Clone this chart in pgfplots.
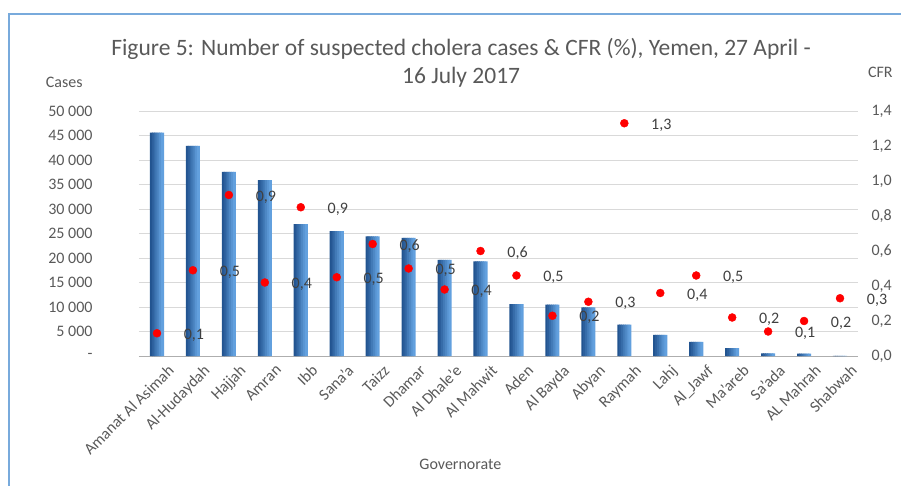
\documentclass[border=0pt]{standalone}
\usepackage{fontspec}
\setmainfont{Carlito}
\usepackage{pgfplots}
\usepackage{pgfplotstable}
\pgfplotsset{compat=1.18}

\definecolor{txt}{RGB}{89,89,89}
\definecolor{lbl}{RGB}{64,64,64}
\definecolor{gridc}{RGB}{217,217,217}
\definecolor{barL}{RGB}{34,84,144}
\definecolor{barR}{RGB}{98,160,222}
\definecolor{framec}{RGB}{120,170,220}
% slice colours for the bar gradient
\colorlet{bar0}{barL}
\colorlet{bar1}{barL!85!barR}
\colorlet{bar2}{barL!68!barR}
\colorlet{bar3}{barL!50!barR}
\colorlet{bar4}{barL!33!barR}
\colorlet{bar5}{barL!16!barR}
\colorlet{bar6}{barR}

\pgfplotstableread{
x cases
0 45600
1 42900
2 37600
3 35900
4 26900
5 25500
6 24400
7 24100
8 19600
9 19300
10 10600
11 10500
12 9900
13 6400
14 4300
15 2900
16 1600
17 550
18 500
19 50
}\cases

\pgfplotstableread{
x cfr
0 0.13
1 0.49
2 0.92
3 0.42
4 0.85
5 0.45
6 0.64
7 0.50
8 0.38
9 0.60
10 0.46
11 0.23
12 0.31
13 1.33
14 0.36
15 0.46
16 0.22
17 0.14
18 0.20
19 0.33
}\cfr

\begin{document}
\begin{tikzpicture}[font=\fontsize{16bp}{19bp}\selectfont]
\path[use as bounding box] (-139bp,-130bp) rectangle (762bp,356bp);
\draw[framec, line width=1.2bp] (-130bp,-131bp) -- (-130bp,342bp) -- (763bp,342bp);

% cases (left axis)
\begin{axis}[
    at={(0,0)}, anchor=south west, scale only axis,
    width=719bp, height=245bp,
    xmin=-0.5, xmax=19.5, ymin=0, ymax=50000,
    clip=false,
    scaled y ticks=false,
    separate axis lines,
    axis x line*=bottom, axis y line*=left,
    x axis line style={color=gridc!80!black, line width=1bp},
    y axis line style={draw=none},
    major tick length=0pt,
    xtick={0,...,19},
    xticklabels={Amanat Al Asimah, Al-Hudaydah, Hajjah, Amran, Ibb, Sana'a, Taizz, Dhamar, Al Dhale'e, Al Mahwit, Aden, Al Bayda, Abyan, Raymah, Lahj, Al\_Jawf, Ma'areb, Sa'ada, AL Mahrah, Shabwah},
    xticklabel style={rotate=45, anchor=north east, xshift=5bp, yshift=-9bp, color=txt},
    ytick={0,5000,...,50000},
    yticklabels={{-\hspace{13bp}}, 5 000, 10 000, 15 000, 20 000, 25 000, 30 000, 35 000, 40 000, 45 000, 50 000},
    yticklabel style={color=txt, anchor=east, xshift=-43bp},
    ymajorgrids, grid style={color=gridc, line width=0.9bp},
]
% bars drawn as seven overlapping slices to get the left-to-right gradient
\pgfplotsinvokeforeach{0,...,6}{
  \addplot[ybar, bar width=3bp, bar shift={(#1-3)*1.85bp}, draw=none, fill=bar#1]
    table[x=x, y=cases] {\cases};
}
\node[color=txt, anchor=center] at (axis description cs:-0.104,1.118) {Cases};
\node[color=txt, anchor=center] at (axis description cs:0.447,-0.441) {Governorate};
\node[color=txt, align=center, anchor=center, font=\fontsize{23.5bp}{28bp}\selectfont]
    at (axis description cs:0.448,1.196) {Figure 5: Number of suspected cholera cases \& CFR (\%), Yemen, 27 April -\\16 July 2017};
\end{axis}

% CFR (right axis)
\begin{axis}[
    at={(0,0)}, anchor=south west, scale only axis,
    width=719bp, height=245bp,
    xmin=-0.5, xmax=19.5, ymin=0, ymax=1.4,
    axis x line=none, axis y line*=right,
    y axis line style={draw=none},
    major tick length=0pt,
    ytick={0,0.2,...,1.4},
    yticklabels={{0,0},{0,2},{0,4},{0,6},{0,8},{1,0},{1,2},{1,4}},
    yticklabel style={color=txt, anchor=west, xshift=10bp},
    clip=false,
    point meta=y,
    nodes near coords={\pgfmathprintnumber[fixed,fixed zerofill,precision=1,use comma,assume math mode=true]{\pgfplotspointmeta}},
    every node near coord/.append style={color=lbl, anchor=center, xshift=37bp, yshift=-2bp},
]
\addplot[only marks, mark=*, mark size=4bp, color=red] table[x=x, y=cfr] {\cfr};
\node[color=txt, anchor=center] at (axis description cs:1.031,1.159) {CFR};
\end{axis}
\end{tikzpicture}
\end{document}
